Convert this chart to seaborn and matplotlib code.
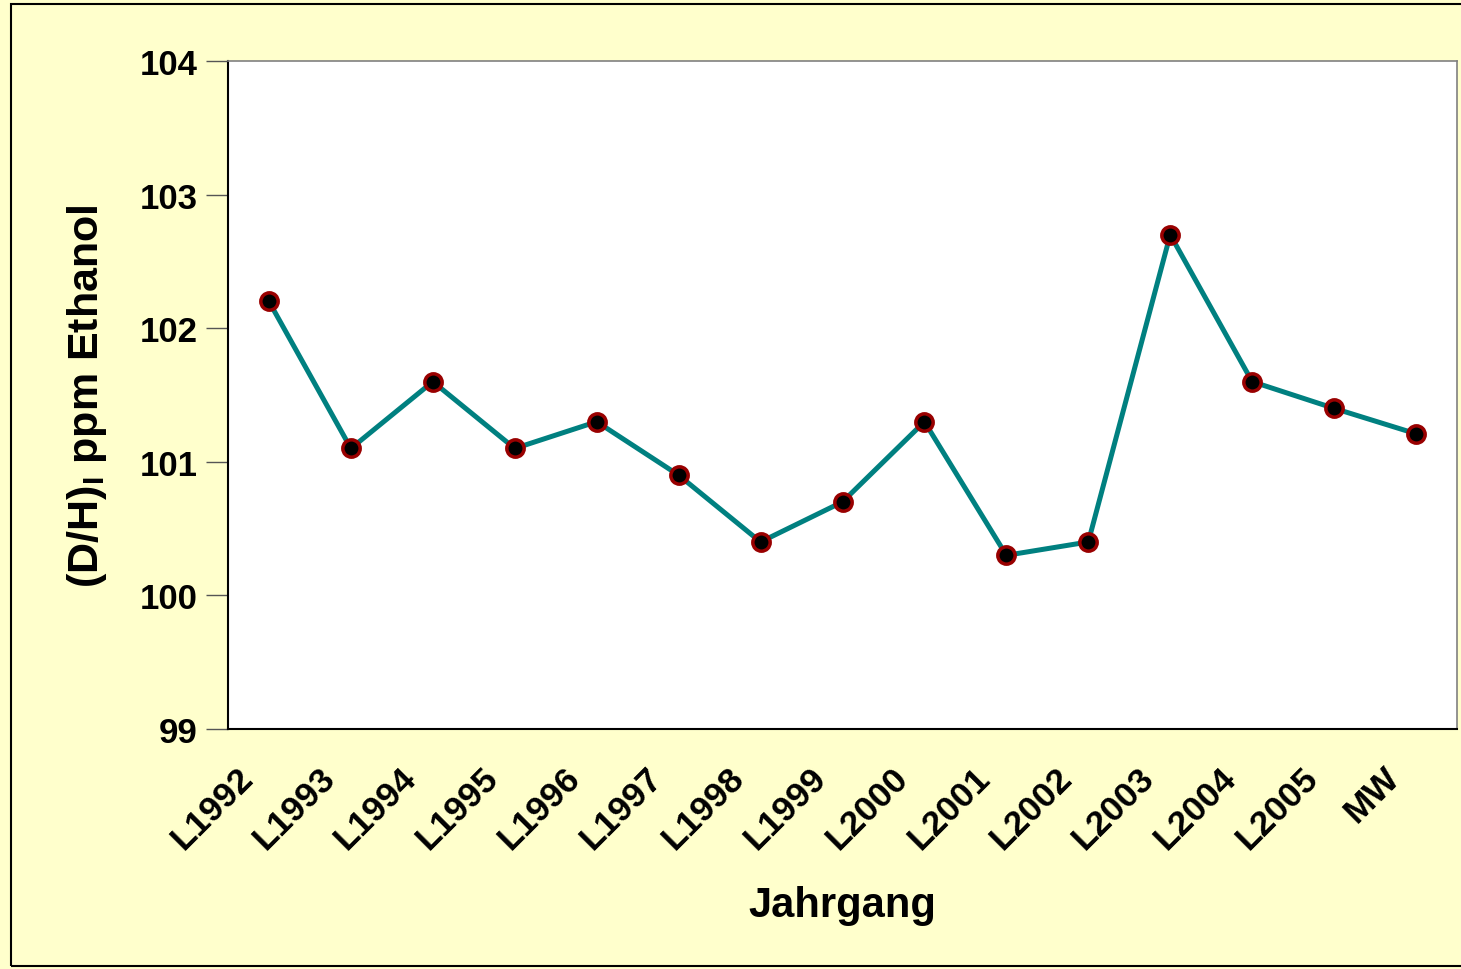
import seaborn as sns
import matplotlib.pyplot as plt
import matplotlib.transforms as mtransforms
import pandas as pd
from matplotlib.patches import Rectangle
from matplotlib.ticker import FixedLocator

# data
jahrgang = ["L1992", "L1993", "L1994", "L1995", "L1996", "L1997", "L1998", "L1999",
            "L2000", "L2001", "L2002", "L2003", "L2004", "L2005", "MW"]
dh_werte = [102.2, 101.1, 101.6, 101.1, 101.3, 100.9, 100.4, 100.7,
            101.3, 100.3, 100.4, 102.7, 101.6, 101.4, 101.21]
y_ticks = [99, 100, 101, 102, 103, 104]

df = pd.DataFrame({"Jahrgang": jahrgang, "DH": dh_werte})

sns.set_style("white")
plt.rcParams['font.family'] = ['Liberation Sans', 'DejaVu Sans']
plt.rcParams['font.weight'] = 'bold'
plt.rcParams['text.color'] = 'black'
plt.rcParams['axes.labelcolor'] = 'black'

fig = plt.figure(figsize=(14.61, 9.70), dpi=100)
fig.patch.set_facecolor("#FFFFCC")
ax = fig.add_axes([228/1461, 1-730/970, (1457-228)/1461, (730-62)/970])
ax.set_facecolor("white")

sns.lineplot(data=df, x="Jahrgang", y="DH", sort=False, ax=ax, color="#008080",
             linewidth=3.6, marker="o", markersize=12.5, markerfacecolor="black",
             markeredgecolor="#990000", markeredgewidth=2.5)

ax.set_xlim(-0.5, len(jahrgang) - 0.5)
ax.set_ylim(99, 104)
ax.set_yticks(y_ticks)
ax.set_yticklabels([str(v) for v in y_ticks], fontsize=25, fontweight="bold")
ax.set_xticks(range(len(jahrgang)))
ax.set_xticklabels(jahrgang, rotation=45, ha="right", rotation_mode="anchor",
                   fontsize=25.5, fontweight="bold")
ax.xaxis.set_minor_locator(FixedLocator([i + 0.5 for i in range(len(jahrgang) - 1)]))
ax.tick_params(axis="x", which="major", length=0, pad=14, labelcolor="black")
ax.tick_params(axis="x", which="minor", direction="in", length=7, width=1, color="#555555")
ax.tick_params(axis="y", which="major", direction="out", length=16, width=1,
               color="#555555", pad=6, left=True, labelcolor="black")

# move the slanted labels left/down like the original
shift = mtransforms.ScaledTranslation(-33/100, -12/100, fig.dpi_scale_trans)
for lbl in ax.get_xticklabels():
    lbl.set_transform(lbl.get_transform() + shift)

ax.set_xlabel("Jahrgang", fontsize=30, fontweight="bold", labelpad=22)
ax.set_ylabel(r"(D/H)$_\mathregular{I}$ ppm Ethanol", fontsize=31, fontweight="bold", labelpad=22)

for side in ["left", "bottom"]:
    ax.spines[side].set_color("black")
    ax.spines[side].set_linewidth(1.5)
for side in ["top", "right"]:
    ax.spines[side].set_color("#808080")
    ax.spines[side].set_linewidth(1.2)

fig.patches.append(Rectangle((11/1461, 3/970), 1 - 11/1461 + 0.01, 1 - 8/970,
                             transform=fig.transFigure, fill=False,
                             edgecolor="black", linewidth=1.5))

fig.savefig("out.png", dpi=100, facecolor=fig.get_facecolor())
